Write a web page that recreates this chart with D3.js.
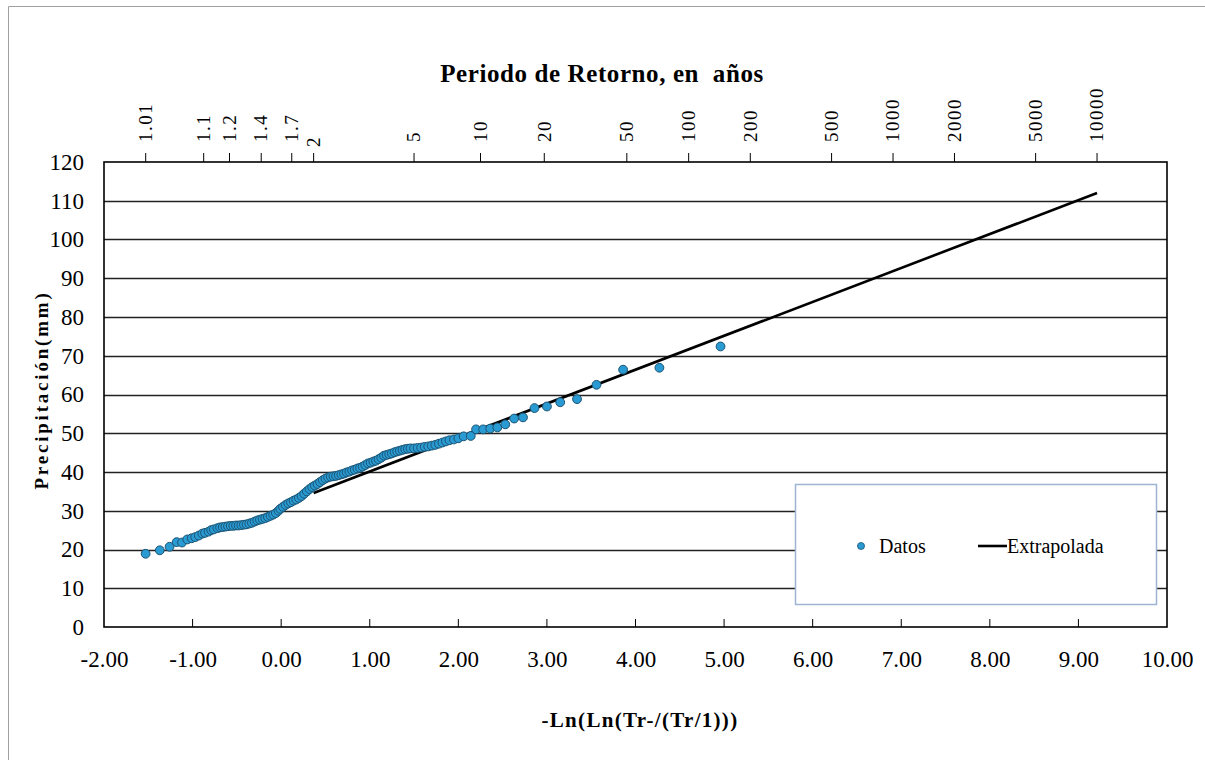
<!DOCTYPE html>
<html>
<head>
<meta charset="utf-8">
<script src="https://cdn.jsdelivr.net/npm/d3@7"></script>
<style>
  body { margin:0; background:#fff; }
  svg text { font-family:"Liberation Serif","Times New Roman",serif; fill:#000; }
</style>
</head>
<body>
<svg id="chart" width="1205" height="760"></svg>
<script>
// reduced variate (x) and precipitation (mm) of each observed point
var dataX=[-1.53,-1.37,-1.26,-1.18,-1.12,-1.06,-1.01,-0.97,-0.93,-0.89,-0.86,-0.82,-0.79,-0.76,-0.72,-0.69,-0.66,-0.63,-0.60,-0.57,
  -0.54,-0.51,-0.48,-0.45,-0.42,-0.39,-0.36,-0.33,-0.30,-0.27,-0.24,-0.21,-0.18,-0.15,-0.12,-0.09,-0.06,-0.03,-0.01,0.02,
  0.05,0.08,0.11,0.14,0.17,0.20,0.23,0.26,0.29,0.32,0.35,0.38,0.41,0.44,0.47,0.50,0.53,0.56,0.59,0.62,
  0.65,0.68,0.71,0.74,0.77,0.80,0.83,0.86,0.89,0.92,0.95,0.98,1.01,1.04,1.07,1.10,1.13,1.16,1.19,1.22,
  1.25,1.28,1.31,1.34,1.37,1.40,1.43,1.46,1.50,1.54,1.58,1.62,1.66,1.70,1.74,1.78,1.82,1.86,1.90,1.95,
  2.00,2.06,2.14,2.20,2.28,2.36,2.44,2.53,2.63,2.73,2.86,3.00,3.15,3.34,3.56,3.86,4.27,4.96]
var dataY=[18.9,19.8,20.7,21.9,21.8,22.6,22.9,23.2,23.6,24.1,24.3,24.6,25.0,25.2,25.5,25.7,25.8,25.9,26.0,26.1,
  26.1,26.2,26.2,26.3,26.4,26.5,26.7,26.9,27.2,27.5,27.7,27.9,28.1,28.4,28.7,29.0,29.4,30.0,30.5,31.0,
  31.5,31.9,32.2,32.6,32.9,33.3,33.8,34.4,35.0,35.6,36.1,36.5,36.9,37.4,37.9,38.3,38.6,38.8,38.9,39.0,
  39.2,39.4,39.6,39.9,40.1,40.4,40.6,40.9,41.1,41.4,41.8,42.2,42.4,42.7,42.9,43.3,43.7,44.2,44.4,44.6,
  44.8,45.1,45.3,45.5,45.7,45.9,46.0,46.1,46.1,46.2,46.3,46.5,46.6,46.8,47.0,47.3,47.6,47.9,48.2,48.4,
  48.7,49.2,49.3,51.0,51.0,51.2,51.5,52.3,53.8,54.1,56.5,56.9,58.0,58.8,62.5,66.4,66.9,72.4]
// extrapolated Gumbel line, by return period
var lineT=[2,10000]
var lineY=[34.6,112.0]
// return periods labelled on the top axis
var periodTicks=[1.01,1.1,1.2,1.4,1.7,2,5,10,20,50,100,200,500,1000,2000,5000,10000]
var xTicks=[-2,-1,0,1,2,3,4,5,6,7,8,9,10]
var yTicks=[0,10,20,30,40,50,60,70,80,90,100,110,120]

var gumbel=function(T){ return -Math.log(-Math.log(1-1/T)) }

var svg=d3.select('#chart')
var plot={left:104,right:1167,top:162,bottom:627}
var x=d3.scaleLinear().domain([-2,10]).range([plot.left,plot.right]),
    y=d3.scaleLinear().domain([0,120]).range([plot.bottom,plot.top])

// outer frame
svg.append('path')
    .attr('d',`M8.5,760 V6.5 H1205`)
    .attr('fill','none').attr('stroke','#a0a0a0').attr('stroke-width',1)

// gridlines
svg.append('g').selectAll('line')
    .data(yTicks.slice(1,-1))
    .join('line')
    .attr('x1',plot.left).attr('x2',plot.right)
    .attr('y1',d=>Math.round(y(d))+0.5).attr('y2',d=>Math.round(y(d))+0.5)
    .attr('stroke','#222').attr('stroke-width',1.3)

// bottom axis
var fmt=d3.format('.2f')
var xAxis=svg.append('g').attr('transform',`translate(0,${plot.bottom})`)
    .call(d3.axisBottom(x).tickValues(xTicks).tickFormat(d=>fmt(d).replace('−','-')).tickSize(0).tickPadding(24))
xAxis.select('.domain').remove()
xAxis.selectAll('text').attr('font-size',23).attr('font-family','Liberation Serif')
svg.append('g').selectAll('line')
    .data(xTicks.slice(1,-1))
    .join('line')
    .attr('x1',d=>x(d)).attr('x2',d=>x(d))
    .attr('y1',plot.bottom).attr('y2',plot.bottom-8)
    .attr('stroke','#000').attr('stroke-width',1)

// left axis
var yAxis=svg.append('g').attr('transform',`translate(${plot.left},0)`)
    .call(d3.axisLeft(y).tickValues(yTicks).tickSize(0).tickPadding(20))
yAxis.select('.domain').remove()
yAxis.selectAll('text').attr('font-size',23).attr('font-family','Liberation Serif')

// top axis in return periods
var topAxis=svg.append('g')
topAxis.selectAll('line')
    .data(periodTicks)
    .join('line')
    .attr('x1',d=>x(gumbel(d))).attr('x2',d=>x(gumbel(d)))
    .attr('y1',plot.top).attr('y2',plot.top-9)
    .attr('stroke','#000').attr('stroke-width',1)
topAxis.selectAll('text')
    .data(periodTicks)
    .join('text')
    .attr('transform',d=>`translate(${x(gumbel(d))},${d==2?147:142}) rotate(-90)`)
    .attr('dy','0.33em')
    .attr('text-anchor','start')
    .attr('font-size',19)
    .attr('letter-spacing',1.5)
    .text(d=>d)

// plot frame
svg.append('rect')
    .attr('x',plot.left).attr('y',plot.top)
    .attr('width',plot.right-plot.left).attr('height',plot.bottom-plot.top)
    .attr('fill','none').attr('stroke','#000').attr('stroke-width',1.6)

// extrapolated line
svg.append('path')
    .datum(lineT.map((t,i)=>[gumbel(t),lineY[i]]))
    .attr('d',d3.line().x(d=>x(d[0])).y(d=>y(d[1])))
    .attr('fill','none').attr('stroke','#000').attr('stroke-width',2.6)

// observed points
svg.append('g').selectAll('circle')
    .data(dataX.map((v,i)=>[v,dataY[i]]))
    .join('circle')
    .attr('cx',d=>x(d[0])).attr('cy',d=>y(d[1]))
    .attr('r',4.4)
    .attr('fill','#2a9ad2').attr('stroke','#1a5373').attr('stroke-width',1)

// titles
svg.append('text')
    .attr('x',602).attr('y',82)
    .attr('text-anchor','middle')
    .attr('font-size',25).attr('font-weight','bold')
    .attr('letter-spacing',0.6)
    .style('white-space','pre')
    .text('Periodo de Retorno, en  años')
svg.append('text')
    .attr('x',640).attr('y',727)
    .attr('text-anchor','middle')
    .attr('font-size',21).attr('font-weight','bold')
    .attr('letter-spacing',1.3)
    .text('-Ln(Ln(Tr-/(Tr/1)))')
svg.append('text')
    .attr('transform','translate(48,390) rotate(-90)')
    .attr('text-anchor','middle')
    .attr('font-size',19).attr('font-weight','bold')
    .attr('letter-spacing',2.8)
    .text('Precipitación(mm)')

// legend
var lg=svg.append('g')
lg.append('rect')
    .attr('x',795.5).attr('y',484.5).attr('width',361).attr('height',120)
    .attr('fill','#fff').attr('stroke','#9db5d3').attr('stroke-width',1.5)
lg.append('circle')
    .attr('cx',861).attr('cy',546).attr('r',3.5)
    .attr('fill','#2a9ad2').attr('stroke','#1a5373').attr('stroke-width',0.8)
lg.append('text').attr('x',879).attr('y',553).attr('font-size',20).text('Datos')
lg.append('line')
    .attr('x1',978).attr('x2',1007).attr('y1',546).attr('y2',546)
    .attr('stroke','#000').attr('stroke-width',2.6)
lg.append('text').attr('x',1007).attr('y',553).attr('font-size',20).text('Extrapolada')
</script>
</body>
</html>
